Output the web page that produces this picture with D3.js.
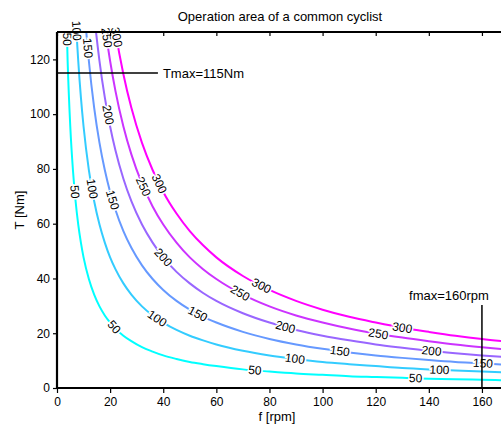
<!DOCTYPE html>
<html>
<head>
<meta charset="utf-8">
<script src="https://cdn.jsdelivr.net/npm/d3@7"></script>
<style>
body { margin: 0; background: #fff; }
text { font-family: "Liberation Sans", Arial, sans-serif; fill: #000; }
</style>
</head>
<body>
<svg id="canvas" width="501" height="425"></svg>
<script>

// pedal speed samples [rpm], shared by every contour
let rpmGrid = [3, 4, 5, 6, 7, 8, 9, 10, 12, 14, 16, 18, 20, 22, 25, 28, 32, 36, 40,
               45, 50, 55, 60, 70, 80, 90, 100, 110, 120, 130, 140, 150, 160, 170];

// torque [Nm] (null = above the plot)
let torque50 = [159.2, 119.4, 95.5, 79.6, 68.2, 59.7, 53.1, 47.7, 39.8, 34.1, 29.8, 26.5, 23.9, 21.7, 19.1, 17.1, 14.9, 13.3, 11.9,
                10.6, 9.5, 8.7, 8.0, 6.8, 6.0, 5.3, 4.8, 4.3, 4.0, 3.7, 3.4, 3.2, 3.0, 2.8];
let torque100 = [null, null, null, 159.2, 136.4, 119.4, 106.1, 95.5, 79.6, 68.2, 59.7, 53.1, 47.7, 43.4, 38.2, 34.1, 29.8, 26.5, 23.9,
                 21.2, 19.1, 17.4, 15.9, 13.6, 11.9, 10.6, 9.5, 8.7, 8.0, 7.3, 6.8, 6.4, 6.0, 5.6];
let torque150 = [null, null, null, null, null, null, 159.2, 143.2, 119.4, 102.3, 89.5, 79.6, 71.6, 65.1, 57.3, 51.2, 44.8, 39.8, 35.8,
                 31.8, 28.6, 26.0, 23.9, 20.5, 17.9, 15.9, 14.3, 13.0, 11.9, 11.0, 10.2, 9.5, 9.0, 8.4];
let torque200 = [null, null, null, null, null, null, null, null, 159.2, 136.4, 119.4, 106.1, 95.5, 86.8, 76.4, 68.2, 59.7, 53.1, 47.7,
                 42.4, 38.2, 34.7, 31.8, 27.3, 23.9, 21.2, 19.1, 17.4, 15.9, 14.7, 13.6, 12.7, 11.9, 11.2];
let torque250 = [null, null, null, null, null, null, null, null, null, 170.5, 149.2, 132.6, 119.4, 108.5, 95.5, 85.3, 74.6, 66.3, 59.7,
                 53.1, 47.7, 43.4, 39.8, 34.1, 29.8, 26.5, 23.9, 21.7, 19.9, 18.4, 17.1, 15.9, 14.9, 14.0];
let torque300 = [null, null, null, null, null, null, null, null, null, null, null, 159.2, 143.2, 130.2, 114.6, 102.3, 89.5, 79.6, 71.6,
                 63.7, 57.3, 52.1, 47.7, 40.9, 35.8, 31.8, 28.6, 26.0, 23.9, 22.0, 20.5, 19.1, 17.9, 16.9];

let powerLevels = [50, 100, 150, 200, 250, 300];
let levelTorques = [torque50, torque100, torque150, torque200, torque250, torque300];
let levelColors = ['#00ffff', '#33ccff', '#6699ff', '#9966ff', '#cc33ff', '#ff00ff'];

// where the inline contour labels sit (rpm along each contour)
let labelRpm = [
    [3.8, 6.7, 21.5, 74.5, 135],
    [7.35, 13.2, 37.7, 89.6, 144],
    [11.6, 20.9, 53, 106.5, 160.4],
    [19.2, 40, 86, 141],
    [18.7, 32.5, 69, 121],
    [22.4, 38.5, 77, 130]
];

let xTicks = [0, 20, 40, 60, 80, 100, 120, 140, 160];
let yTicks = [0, 20, 40, 60, 80, 100, 120];

// limits of the cyclist
let tMax = 115, tMaxLineEnd = 38;
let fMax = 160, fMaxLineTop = 30.3;

let svg = d3.select('#canvas');

let x = d3.scaleLinear().domain([0, 170]).range([57, 508.5]);
let y = d3.scaleLinear().domain([0, 130]).range([388, 32]);

svg.append('clipPath').attr('id', 'plotClip')
    .append('rect')
    .attr('x', x(0)).attr('y', y(130))
    .attr('width', x(170) - x(0)).attr('height', y(0) - y(130));

// contour lines
let line = d3.line()
    .defined(d => d[1] != null)
    .x(d => x(d[0]))
    .y(d => y(d[1]))
    .curve(d3.curveMonotoneX);

svg.append('g').attr('clip-path', 'url(#plotClip)')
    .selectAll('path')
    .data(levelTorques)
    .join('path')
    .attr('d', (d, i) => line(rpmGrid.map((f, j) => [f, d[j]])))
    .attr('fill', 'none')
    .attr('stroke', (d, i) => levelColors[i])
    .attr('stroke-width', 2);

// find the point and slope of a contour at a given rpm
function labelPlace(torques, f){
    let j = d3.bisectRight(rpmGrid, f) - 1;
    j = Math.max(0, Math.min(j, rpmGrid.length - 2));
    let f0 = rpmGrid[j], f1 = rpmGrid[j + 1];
    let t0 = torques[j], t1 = torques[j + 1];
    let t = t0 + (t1 - t0) * (f - f0) / (f1 - f0);
    let ang = Math.atan2(y(t1) - y(t0), x(f1) - x(f0)) * 180 / Math.PI;
    return {px: x(f), py: y(t), ang: ang};
}

let labels = [];
powerLevels.forEach((level, i) => {
    for(let f of labelRpm[i]){
        let p = labelPlace(levelTorques[i], f);
        p.text = level;
        labels.push(p);
    }
});

svg.append('g')
    .selectAll('text')
    .data(labels)
    .join('text')
    .attr('transform', d => `translate(${d.px},${d.py}) rotate(${d.ang})`)
    .attr('text-anchor', 'middle')
    .attr('dominant-baseline', 'central')
    .attr('font-size', 12)
    .attr('stroke', '#fff')
    .attr('stroke-width', 3)
    .attr('paint-order', 'stroke')
    .text(d => d.text);

// Tmax and fmax markers
svg.append('line')
    .attr('x1', x(0)).attr('x2', x(tMaxLineEnd))
    .attr('y1', y(tMax)).attr('y2', y(tMax))
    .attr('stroke', '#000').attr('stroke-width', 1.5);
svg.append('text')
    .attr('x', x(tMaxLineEnd) + 5).attr('y', y(tMax))
    .attr('dominant-baseline', 'central')
    .attr('font-size', 13)
    .text('Tmax=' + tMax + 'Nm');

svg.append('line')
    .attr('x1', x(fMax)).attr('x2', x(fMax))
    .attr('y1', y(0)).attr('y2', y(fMaxLineTop))
    .attr('stroke', '#000').attr('stroke-width', 1.5);
svg.append('text')
    .attr('x', x(fMax) - 33).attr('y', y(fMaxLineTop) - 5)
    .attr('text-anchor', 'middle')
    .attr('font-size', 13)
    .text('fmax=' + fMax + 'rpm');

// axes
let xAxis = svg.append('g')
    .attr('transform', `translate(0,${y(0)})`)
    .call(d3.axisBottom(x).tickValues(xTicks).tickSize(5).tickPadding(4));
let yAxis = svg.append('g')
    .attr('transform', `translate(${x(0)},0)`)
    .call(d3.axisLeft(y).tickValues(yTicks).tickSize(4).tickPadding(3));
let topAxis = svg.append('g')
    .attr('transform', `translate(0,${y(130)})`)
    .call(d3.axisBottom(x).tickValues(xTicks).tickSize(4).tickFormat(''));

for(let ax of [xAxis, yAxis, topAxis]){
    ax.select('.domain').remove();
    ax.selectAll('line').attr('stroke', '#000').attr('stroke-width', 1.2);
    ax.selectAll('text').attr('font-size', 12).attr('font-family', '"Liberation Sans", Arial, sans-serif');
}

// box edges
svg.append('line')
    .attr('x1', x(0)).attr('x2', 501).attr('y1', y(0)).attr('y2', y(0))
    .attr('stroke', '#000').attr('stroke-width', 2.2);
svg.append('line')
    .attr('x1', x(0)).attr('x2', x(0)).attr('y1', y(130)).attr('y2', y(0))
    .attr('stroke', '#000').attr('stroke-width', 2.2);
svg.append('line')
    .attr('x1', x(0)).attr('x2', 501).attr('y1', y(130)).attr('y2', y(130))
    .attr('stroke', '#000').attr('stroke-width', 2.2);

// titles
svg.append('text')
    .attr('x', 280).attr('y', 21)
    .attr('text-anchor', 'middle')
    .attr('font-size', 13)
    .text('Operation area of a common cyclist');
svg.append('text')
    .attr('x', 277).attr('y', 421)
    .attr('text-anchor', 'middle')
    .attr('font-size', 13)
    .text('f [rpm]');
svg.append('text')
    .attr('transform', `translate(24,${(y(0) + y(130)) / 2}) rotate(-90)`)
    .attr('text-anchor', 'middle')
    .attr('font-size', 13)
    .text('T [Nm]');

</script>
</body>
</html>
